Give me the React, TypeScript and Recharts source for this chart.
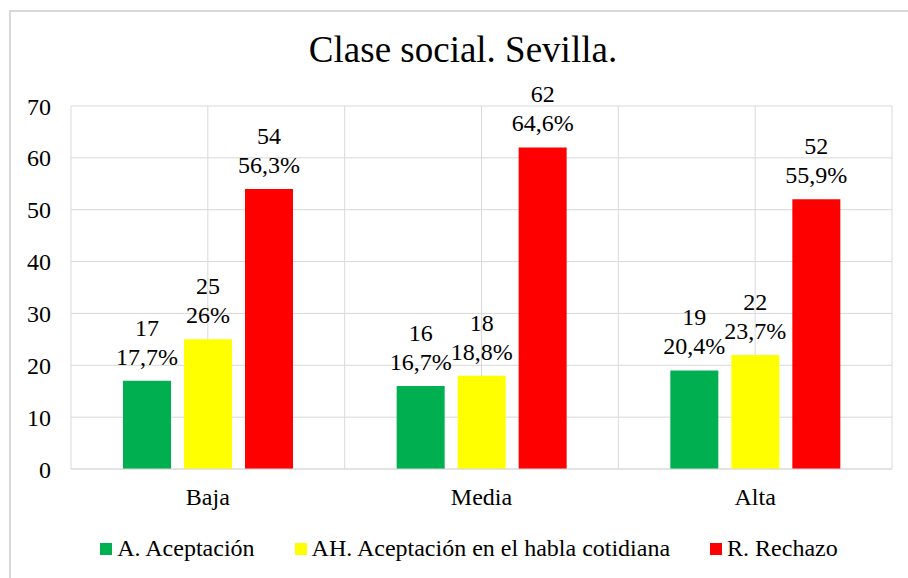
import React from "react";
import {
  BarChart,
  Bar,
  XAxis,
  YAxis,
  CartesianGrid,
  Legend,
  LabelList,
} from "recharts";

const categories = ["Baja", "Media", "Alta"];
const aceptacion = [17, 16, 19];
const habla = [25, 18, 22];
const rechazo = [54, 62, 52];
const aceptacionPct = ["17,7%", "16,7%", "20,4%"];
const hablaPct = ["26%", "18,8%", "23,7%"];
const rechazoPct = ["56,3%", "64,6%", "55,9%"];
const yTicks = [0, 10, 20, 30, 40, 50, 60, 70];

const series = [
  { key: "a", name: "A. Aceptación", color: "#00B050", pct: aceptacionPct },
  { key: "ah", name: "AH. Aceptación en el habla cotidiana", color: "#FFFF00", pct: hablaPct },
  { key: "r", name: "R. Rechazo", color: "#FF0000", pct: rechazoPct },
];

const chartData = categories.map((name, i) => ({
  name,
  a: aceptacion[i],
  ah: habla[i],
  r: rechazo[i],
}));

const FONT = "'Liberation Serif', 'Times New Roman', serif";
const textStyle = { fontFamily: FONT, fontSize: 24 };

const makeLabel = (pcts: string[]) => (props: any) => {
  const { x, y, width, value, index } = props;
  const cx = Number(x) + Number(width) / 2;
  return (
    <g>
      <text x={cx} y={Number(y) - 45} textAnchor="middle" style={textStyle} fill="#000">
        {value}
      </text>
      <text x={cx} y={Number(y) - 16} textAnchor="middle" style={textStyle} fill="#000">
        {pcts[index]}
      </text>
    </g>
  );
};

const renderLegend = () => (
  <div
    style={{
      display: "flex",
      justifyContent: "center",
      alignItems: "center",
      fontFamily: FONT,
      fontSize: 24,
      color: "#000",
      whiteSpace: "nowrap",
    }}
  >
    {series.map((s, i) => (
      <span
        key={s.key}
        style={{ display: "inline-flex", alignItems: "center", marginLeft: i === 0 ? 0 : 40 }}
      >
        <span style={{ width: 12, height: 12, background: s.color, marginRight: 5, display: "inline-block" }} />
        {s.name}
      </span>
    ))}
  </div>
);

const App = () => {
  return (
    <div style={{ position: "absolute", left: 0, top: 0, width: 908, height: 578, background: "#fff", fontFamily: FONT }}>
      <div
        style={{
          position: "absolute",
          left: 9,
          top: 10,
          width: 899,
          height: 568,
          borderLeft: "2px solid #D9D9D9",
          borderTop: "2px solid #D9D9D9",
          boxSizing: "border-box",
        }}
      />
      <div
        style={{
          position: "absolute",
          left: 0,
          top: 30,
          width: 926,
          textAlign: "center",
          fontFamily: FONT,
          fontSize: 37,
          lineHeight: "40px",
          color: "#000",
        }}
      >
        Clase social. Sevilla.
      </div>
      <div style={{ position: "absolute", left: 0, top: 0 }}>
        <BarChart
          width={908}
          height={578}
          data={chartData}
          margin={{ top: 106, right: 16, bottom: 79, left: 11 }}
          barSize={48}
          barGap={13}
          style={{ fontFamily: FONT }}
        >
          <CartesianGrid
            stroke="#D9D9D9"
            verticalCoordinatesGenerator={({ offset }: any) =>
              [0, 1, 2, 3, 4, 5, 6].map((i) => offset.left + (i * offset.width) / 6)
            }
          />
          <XAxis
            dataKey="name"
            height={30}
            tickLine={false}
            tickSize={0}
            tickMargin={19}
            axisLine={{ stroke: "#D9D9D9" }}
            tick={{ fontSize: 24, fill: "#000", style: { fontFamily: FONT } }}
          />
          <YAxis
            width={60}
            domain={[0, 70]}
            ticks={yTicks}
            axisLine={false}
            tickLine={false}
            tickSize={0}
            tickMargin={20}
            tick={{ fontSize: 24, fill: "#000", style: { fontFamily: FONT } }}
          />
          <Legend
            verticalAlign="middle"
            align="center"
            wrapperStyle={{ top: 535, left: 0, width: 938 }}
            content={renderLegend}
          />
          {series.map((s) => (
            <Bar key={s.key} dataKey={s.key} name={s.name} fill={s.color} isAnimationActive={false}>
              <LabelList dataKey={s.key} content={makeLabel(s.pct)} />
            </Bar>
          ))}
        </BarChart>
      </div>
    </div>
  );
};

export default App;
